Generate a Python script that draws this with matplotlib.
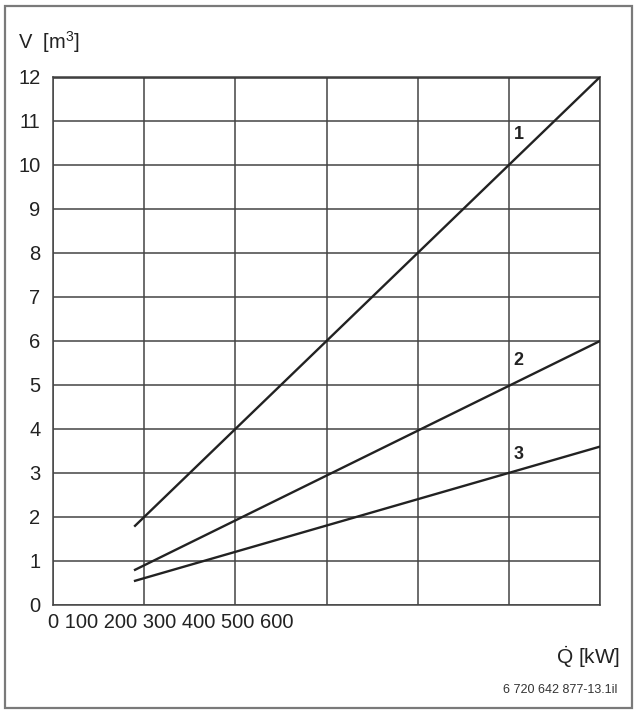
import matplotlib
matplotlib.use("Agg")
from matplotlib import pyplot as plt
from matplotlib.patches import Rectangle

plt.rcParams['font.family'] = ['Liberation Sans', 'DejaVu Sans']
plt.rcParams['mathtext.fontset'] = 'custom'
plt.rcParams['mathtext.rm'] = 'Liberation Sans'
plt.rcParams['mathtext.it'] = 'Liberation Sans'

# curves 1..3: start and end points (Q in kW, V in m3)
q_pts = [90, 600]
v_line1 = [1.8, 12.0]
v_line2 = [0.8, 6.0]
v_line3 = [0.55, 3.6]
curve_names = ['1', '2', '3']
label_q = [505, 505, 505]
label_v = [10.7, 5.55, 3.42]

x_ticks = [0, 100, 200, 300, 400, 500, 600]
y_ticks = list(range(0, 13))

fig = plt.figure(figsize=(6.35, 7.12), dpi=100)
fig.patches.append(Rectangle((5 / 635, 1 - 708 / 712), 627 / 635, 702 / 712,
                             transform=fig.transFigure, fill=False,
                             edgecolor='#7a7a7a', linewidth=1.6))

ax = fig.add_axes([53 / 635, 1 - 605 / 712, 547 / 635, 528 / 712])
ax.set_xlim(0, 600)
ax.set_ylim(0, 12)

for x in x_ticks:
    ax.axvline(x, color='#444444', linewidth=1.1, zorder=1)
for y in y_ticks:
    ax.axhline(y, color='#444444', linewidth=1.1, zorder=1)
ax.axhline(12, color='#333333', linewidth=1.8, zorder=1)

for s in ax.spines.values():
    s.set_color('#444444')
    s.set_linewidth(1.1)

for v in [v_line1, v_line2, v_line3]:
    ax.plot(q_pts, v, color='#222222', linewidth=1.7, zorder=3)

for name, q, v in zip(curve_names, label_q, label_v):
    ax.text(q, v, name, fontsize=13, fontweight='bold', color='#222222',
            ha='left', va='center')

ax.set_xticks([])
ax.set_yticks(y_ticks)
ax.set_yticklabels([str(t) for t in y_ticks], fontsize=14.5, color='#222222')
ax.tick_params(axis='y', length=0, pad=9)

# the x tick labels sit bunched together under the left part of the axis
ax.text(-6, -0.4, ' '.join(str(t) for t in x_ticks), fontsize=14.5,
        color='#222222', ha='left', va='center', transform=ax.transData)

fig.text(18 / 635, 1 - 42 / 712, 'V  [m$^3$]', fontsize=14.5, color='#222222',
         ha='left', va='center')
fig.text(620 / 635, 1 - 657 / 712, r'$\dot{\mathrm{Q}}$ [kW]', fontsize=15,
         color='#222222', ha='right', va='center')
fig.text(617 / 635, 1 - 690 / 712, '6 720 642 877-13.1il', fontsize=9,
         color='#333333', ha='right', va='center')

fig.savefig('out.png', dpi=100)
